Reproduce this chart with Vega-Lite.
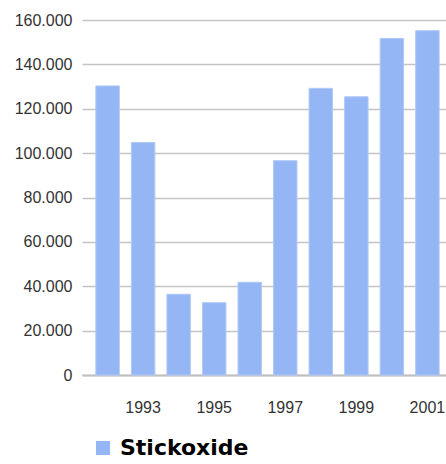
{
  "$schema": "https://vega.github.io/schema/vega-lite/v6.json",
  "width": 371,
  "height": 355,
  "padding": {"left": 14, "top": 12, "right": 0, "bottom": 0},
  "background": "white",
  "config": {
    "locale": {"number": {"decimal": ",", "thousands": ".", "grouping": [3], "currency": ["", " €"]}},
    "view": {"stroke": null}
  },
  "data": {
    "values": [
      {"jahr": 1992, "wert": 130300, "reihe": "Stickoxide"},
      {"jahr": 1993, "wert": 104800, "reihe": "Stickoxide"},
      {"jahr": 1994, "wert": 36400, "reihe": "Stickoxide"},
      {"jahr": 1995, "wert": 32600, "reihe": "Stickoxide"},
      {"jahr": 1996, "wert": 41800, "reihe": "Stickoxide"},
      {"jahr": 1997, "wert": 96600, "reihe": "Stickoxide"},
      {"jahr": 1998, "wert": 129200, "reihe": "Stickoxide"},
      {"jahr": 1999, "wert": 125400, "reihe": "Stickoxide"},
      {"jahr": 2000, "wert": 151700, "reihe": "Stickoxide"},
      {"jahr": 2001, "wert": 155200, "reihe": "Stickoxide"}
    ]
  },
  "mark": {"type": "bar", "stroke": "#b0c9f7", "strokeWidth": 1},
  "encoding": {
    "x": {
      "field": "jahr",
      "type": "ordinal",
      "scale": {"paddingInner": 0.34, "paddingOuter": 0.39},
      "axis": {
        "title": null,
        "values": [1993, 1995, 1997, 1999, 2001],
        "labelAngle": 0,
        "ticks": false,
        "tickSize": 0,
        "labelPadding": 24,
        "labelFont": "Liberation Sans",
        "labelFontSize": 16,
        "labelColor": "#333333",
        "domainColor": "#c0c0c0",
        "domainWidth": 2,
        "grid": false
      }
    },
    "y": {
      "field": "wert",
      "type": "quantitative",
      "scale": {"domain": [0, 160000], "nice": false},
      "axis": {
        "title": null,
        "values": [0, 20000, 40000, 60000, 80000, 100000, 120000, 140000, 160000],
        "format": ",d",
        "ticks": false,
        "tickSize": 0,
        "domain": false,
        "labelPadding": 10,
        "labelFont": "Liberation Sans",
        "labelFontSize": 16,
        "labelColor": "#333333",
        "grid": true,
        "gridColor": "#c4c4c4",
        "gridWidth": 1.6
      }
    },
    "color": {
      "field": "reihe",
      "type": "nominal",
      "scale": {"range": ["#94b6f5"]},
      "legend": {
        "title": null,
        "orient": "none",
        "legendX": 10,
        "legendY": 417,
        "padding": 0,
        "symbolType": "square",
        "symbolSize": 200,
        "symbolStrokeWidth": 0,
        "symbolOffset": 0,
        "labelOffset": 6,
        "labelFont": "DejaVu Sans",
        "labelFontWeight": "bold",
        "labelFontSize": 22,
        "labelColor": "#000000",
        "labelLimit": 300
      }
    }
  }
}
